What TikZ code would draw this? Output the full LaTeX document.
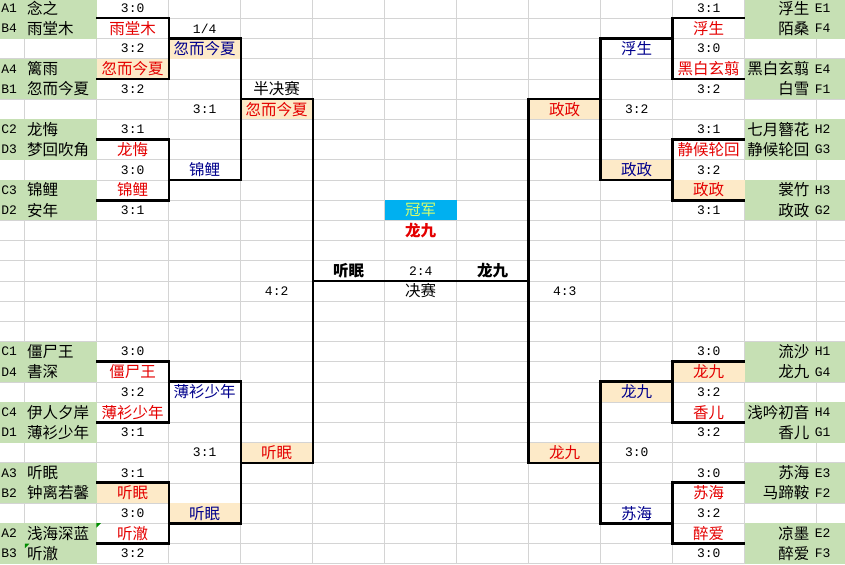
\documentclass[tikz,border=0pt]{standalone}
\usepackage{fontspec}
\setmainfont{Noto Sans CJK SC}
\newfontfamily\scorefont{Liberation Mono}
\usetikzlibrary{positioning}
\definecolor{cellgreen}{RGB}{198,224,180}
\definecolor{cellorange}{RGB}{253,234,200}
\definecolor{gridgray}{RGB}{212,212,212}
\definecolor{winred}{RGB}{228,0,0}
\definecolor{advnavy}{RGB}{0,0,140}
\definecolor{champblue}{RGB}{0,176,240}
\definecolor{champtext}{RGB}{215,255,110}
\definecolor{markgreen}{RGB}{0,140,0}

\begin{document}
\begin{tikzpicture}[
  x=72pt, y=-20.2pt,
  every node/.style={inner sep=0pt, font=\fontsize{15.5}{16}\selectfont},
  cell/.style={minimum width=72pt, minimum height=20.2pt},
  score/.style={cell, font=\scorefont\fontsize{13}{14}\selectfont},
  tag/.style={anchor=west, font=\scorefont\fontsize{13}{14}\selectfont},
  player/.style={anchor=west},
  rplayer/.style={anchor=east},
  win/.style={cell, text=winred},
  adv/.style={cell, text=advnavy},
  hl/.style={fill=cellorange},
  title/.style={cell},
  finalist/.style={cell, font=\fontsize{15.5}{16}\selectfont\bfseries},
  grid line/.style={draw=gridgray, line width=0.8pt},
  bracket/.style={line width=2.6pt}
]
  \useasboundingbox (0.657,0.094) rectangle (12.393,28.015);

  \foreach \c in {1,...,12}
    \draw[grid line] (\c,0.094) -- (\c,28.015);
  \foreach \r in {1,...,28}
    \draw[grid line] (0.657,\r) -- (12.393,\r);

  \foreach \r in {0,3,6,9,17,20,23,26} {
    \fill[cellgreen] (0.657,\r) rectangle (2,\r+2);
    \fill[cellgreen] (11,\r) rectangle (12.393,\r+2);
  }

  % left group
  \node[tag] (tA1) at (0.672,0.5) {A1};   \node[player] (pA1) at (1.03,0.5) {念之};
  \node[tag] (tB4) at (0.672,1.5) {B4};   \node[player] (pB4) at (1.03,1.5) {雨堂木};
  \node[tag] (tA4) at (0.672,3.5) {A4};   \node[player] (pA4) at (1.03,3.5) {篱雨};
  \node[tag] (tB1) at (0.672,4.5) {B1};   \node[player] (pB1) at (1.03,4.5) {忽而今夏};
  \node[tag] (tC2) at (0.672,6.5) {C2};   \node[player] (pC2) at (1.03,6.5) {龙悔};
  \node[tag] (tD3) at (0.672,7.5) {D3};   \node[player] (pD3) at (1.03,7.5) {梦回吹角};
  \node[tag] (tC3) at (0.672,9.5) {C3};   \node[player] (pC3) at (1.03,9.5) {锦鲤};
  \node[tag] (tD2) at (0.672,10.5) {D2};  \node[player] (pD2) at (1.03,10.5) {安年};
  \node[tag] (tC1) at (0.672,17.5) {C1};  \node[player] (pC1) at (1.03,17.5) {僵尸王};
  \node[tag] (tD4) at (0.672,18.5) {D4};  \node[player] (pD4) at (1.03,18.5) {書深};
  \node[tag] (tC4) at (0.672,20.5) {C4};  \node[player] (pC4) at (1.03,20.5) {伊人夕岸};
  \node[tag] (tD1) at (0.672,21.5) {D1};  \node[player] (pD1) at (1.03,21.5) {薄衫少年};
  \node[tag] (tA3) at (0.672,23.5) {A3};  \node[player] (pA3) at (1.03,23.5) {听眠};
  \node[tag] (tB2) at (0.672,24.5) {B2};  \node[player] (pB2) at (1.03,24.5) {钟离若馨};
  \node[tag] (tA2) at (0.672,26.5) {A2};  \node[player] (pA2) at (1.03,26.5) {浅海深蓝};
  \node[tag] (tB3) at (0.672,27.5) {B3};  \node[player] (pB3) at (1.03,27.5) {听澈};

  \node[score] (c2r0) at (2.5,0.5) {3:0};
  \node[win] (lr1a) at (2.5,1.5) {雨堂木};
  \node[score] (c2r2) at (2.5,2.5) {3:2};
  \node[win, hl] (lr1b) at (2.5,3.5) {忽而今夏};
  \node[score] (c2r4) at (2.5,4.5) {3:2};
  \node[score] (c2r6) at (2.5,6.5) {3:1};
  \node[win] (lr1c) at (2.5,7.5) {龙悔};
  \node[score] (c2r8) at (2.5,8.5) {3:0};
  \node[win] (lr1d) at (2.5,9.5) {锦鲤};
  \node[score] (c2r10) at (2.5,10.5) {3:1};
  \node[score] (c2r17) at (2.5,17.5) {3:0};
  \node[win] (lr1e) at (2.5,18.5) {僵尸王};
  \node[score] (c2r19) at (2.5,19.5) {3:2};
  \node[win] (lr1f) at (2.5,20.5) {薄衫少年};
  \node[score] (c2r21) at (2.5,21.5) {3:1};
  \node[score] (c2r23) at (2.5,23.5) {3:1};
  \node[win, hl] (lr1g) at (2.5,24.5) {听眠};
  \node[score] (c2r25) at (2.5,25.5) {3:0};
  \node[win] (lr1h) at (2.5,26.5) {听澈};
  \node[score] (c2r27) at (2.5,27.5) {3:2};

  \node[score] (qtitle) at (3.5,1.5) {1/4};
  \node[adv, hl] (lqfa) at (3.5,2.5) {忽而今夏};
  \node[score] (c3r5) at (3.5,5.5) {3:1};
  \node[adv] (lqfb) at (3.5,8.5) {锦鲤};
  \node[adv] (lqfc) at (3.5,19.5) {薄衫少年};
  \node[score] (c3r22) at (3.5,22.5) {3:1};
  \node[adv, hl] (lqfd) at (3.5,25.5) {听眠};

  \node[title] (stitle) at (4.5,4.5) {半决赛};
  \node[win, hl] (lsfa) at (4.5,5.5) {忽而今夏};
  \node[score] (c4r14) at (4.5,14.5) {4:2};
  \node[win, hl] (lsfb) at (4.5,22.5) {听眠};

  % final
  \node[cell, fill=champblue, text=champtext] (champ) at (6.5,10.5) {冠军};
  \node[finalist, text=winred] (champname) at (6.5,11.5) {龙九};
  \node[finalist] (fl) at (5.5,13.5) {听眠};
  \node[score] (fscore) at (6.5,13.5) {2:4};
  \node[finalist] (fr) at (7.5,13.5) {龙九};
  \node[title] (ftitle) at (6.5,14.5) {决赛};

  % right group
  \node[win, hl] (rsfa) at (8.5,5.5) {政政};
  \node[score] (c8r14) at (8.5,14.5) {4:3};
  \node[win, hl] (rsfb) at (8.5,22.5) {龙九};

  \node[adv] (rqfa) at (9.5,2.5) {浮生};
  \node[score] (c9r5) at (9.5,5.5) {3:2};
  \node[adv, hl] (rqfb) at (9.5,8.5) {政政};
  \node[adv, hl] (rqfc) at (9.5,19.5) {龙九};
  \node[score] (c9r22) at (9.5,22.5) {3:0};
  \node[adv] (rqfd) at (9.5,25.5) {苏海};

  \node[score] (c10r0) at (10.5,0.5) {3:1};
  \node[win] (rr1a) at (10.5,1.5) {浮生};
  \node[score] (c10r2) at (10.5,2.5) {3:0};
  \node[win] (rr1b) at (10.5,3.5) {黑白玄翦};
  \node[score] (c10r4) at (10.5,4.5) {3:2};
  \node[score] (c10r6) at (10.5,6.5) {3:1};
  \node[win] (rr1c) at (10.5,7.5) {静候轮回};
  \node[score] (c10r8) at (10.5,8.5) {3:2};
  \node[win, hl] (rr1d) at (10.5,9.5) {政政};
  \node[score] (c10r10) at (10.5,10.5) {3:1};
  \node[score] (c10r17) at (10.5,17.5) {3:0};
  \node[win, hl] (rr1e) at (10.5,18.5) {龙九};
  \node[score] (c10r19) at (10.5,19.5) {3:2};
  \node[win] (rr1f) at (10.5,20.5) {香儿};
  \node[score] (c10r21) at (10.5,21.5) {3:2};
  \node[score] (c10r23) at (10.5,23.5) {3:0};
  \node[win] (rr1g) at (10.5,24.5) {苏海};
  \node[score] (c10r25) at (10.5,25.5) {3:2};
  \node[win] (rr1h) at (10.5,26.5) {醉爱};
  \node[score] (c10r27) at (10.5,27.5) {3:0};

  \node[rplayer] (pE1) at (11.90,0.5) {浮生};     \node[tag] (tE1) at (11.97,0.5) {E1};
  \node[rplayer] (pF4) at (11.90,1.5) {陌桑};     \node[tag] (tF4) at (11.97,1.5) {F4};
  \node[rplayer] (pE4) at (11.90,3.5) {黑白玄翦}; \node[tag] (tE4) at (11.97,3.5) {E4};
  \node[rplayer] (pF1) at (11.90,4.5) {白雪};     \node[tag] (tF1) at (11.97,4.5) {F1};
  \node[rplayer] (pH2) at (11.90,6.5) {七月簪花}; \node[tag] (tH2) at (11.97,6.5) {H2};
  \node[rplayer] (pG3) at (11.90,7.5) {静候轮回}; \node[tag] (tG3) at (11.97,7.5) {G3};
  \node[rplayer] (pH3) at (11.90,9.5) {裳竹};     \node[tag] (tH3) at (11.97,9.5) {H3};
  \node[rplayer] (pG2) at (11.90,10.5) {政政};    \node[tag] (tG2) at (11.97,10.5) {G2};
  \node[rplayer] (pH1) at (11.90,17.5) {流沙};    \node[tag] (tH1) at (11.97,17.5) {H1};
  \node[rplayer] (pG4) at (11.90,18.5) {龙九};    \node[tag] (tG4) at (11.97,18.5) {G4};
  \node[rplayer] (pH4) at (11.90,20.5) {浅吟初音}; \node[tag] (tH4) at (11.97,20.5) {H4};
  \node[rplayer] (pG1) at (11.90,21.5) {香儿};    \node[tag] (tG1) at (11.97,21.5) {G1};
  \node[rplayer] (pE3) at (11.90,23.5) {苏海};    \node[tag] (tE3) at (11.97,23.5) {E3};
  \node[rplayer] (pF2) at (11.90,24.5) {马蹄鞍};  \node[tag] (tF2) at (11.97,24.5) {F2};
  \node[rplayer] (pE2) at (11.90,26.5) {凉墨};    \node[tag] (tE2) at (11.97,26.5) {E2};
  \node[rplayer] (pF3) at (11.90,27.5) {醉爱};    \node[tag] (tF3) at (11.97,27.5) {F3};

  \fill[markgreen] (lr1h.north west) -- ++(4.5pt,0) -- ++(-4.5pt,-4.5pt) -- cycle;
  \fill[markgreen] (pB3.west |- lr1h.south) ++(-2pt,0) -- ++(4.5pt,0) -- ++(-4.5pt,-4.5pt) -- cycle;

  \draw[bracket] (lr1a.north west) -- (lr1a.north east) |- (lr1b.south west);
  \draw[bracket] (lr1c.north west) -- (lr1c.north east) |- (lr1d.south west);
  \draw[bracket] (lr1e.north west) -- (lr1e.north east) |- (lr1f.south west);
  \draw[bracket] (lr1g.north west) -- (lr1g.north east) |- (lr1h.south west);
  \draw[bracket] (lqfa.north west) -- (lqfa.north east) |- (lqfb.south west);
  \draw[bracket] (lqfc.north west) -- (lqfc.north east) |- (lqfd.south west);
  \draw[bracket] (lsfa.north west) -- (lsfa.north east) |- (lsfb.south west);
  \draw[bracket] (fl.south west) -- (fr.south east);
  \draw[bracket] (rsfa.north east) -- (rsfa.north west) |- (rsfb.south east);
  \draw[bracket] (rqfa.north east) -- (rqfa.north west) |- (rqfb.south east);
  \draw[bracket] (rqfc.north east) -- (rqfc.north west) |- (rqfd.south east);
  \draw[bracket] (rr1a.north east) -- (rr1a.north west) |- (rr1b.south east);
  \draw[bracket] (rr1c.north east) -- (rr1c.north west) |- (rr1d.south east);
  \draw[bracket] (rr1e.north east) -- (rr1e.north west) |- (rr1f.south east);
  \draw[bracket] (rr1g.north east) -- (rr1g.north west) |- (rr1h.south east);
\end{tikzpicture}
\end{document}
